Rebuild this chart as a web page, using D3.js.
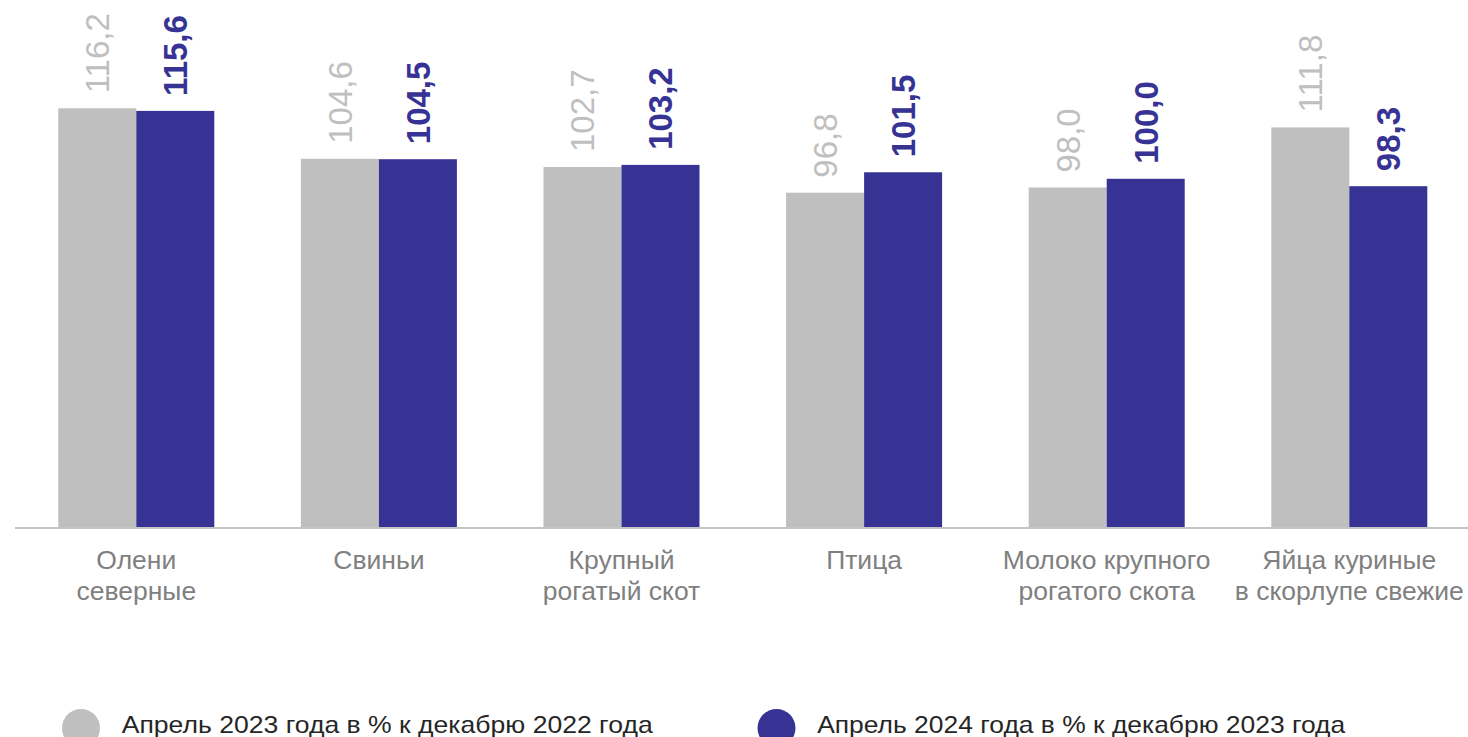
<!DOCTYPE html>
<html>
<head>
<meta charset="utf-8">
<script src="https://cdn.jsdelivr.net/npm/d3@7"></script>
<style>
  body { margin: 0; background: #fff; }
  svg { display: block; font-family: "Liberation Sans", Arial, sans-serif; }
</style>
</head>
<body>
<div id="chart"></div>
<script>
var categories = [
  ["Олени", "северные"],
  ["Свиньи"],
  ["Крупный", "рогатый скот"],
  ["Птица"],
  ["Молоко крупного", "рогатого скота"],
  ["Яйца куриные", "в скорлупе свежие"]
];
var series = ["Апрель 2023 года в % к декабрю 2022 года", "Апрель 2024 года в % к декабрю 2023 года"];
var values2023 = [116.2, 104.6, 102.7, 96.8, 98.0, 111.8];
var values2024 = [115.6, 104.5, 103.2, 101.5, 100.0, 98.3];
var colors = ["#bfbfbf", "#363394"];

var width = 1468, height = 737;

var svg = d3.select("#chart").append("svg")
    .attr("width", width)
    .attr("height", height);

// axis doesn't start at 0 in the original
var y = d3.scaleLinear().domain([20, 140]).range([527, 4.7]);

var x0 = d3.scaleBand()
    .domain(d3.range(categories.length))
    .range([15, 1470.6])
    .paddingInner(0.357)
    .paddingOuter(0.1785);

var x1 = d3.scaleBand()
    .domain([0, 1])
    .range([0, x0.bandwidth()]);

var data = categories.map(function (c, i) {
  return [values2023[i], values2024[i]];
});

var groups = svg.selectAll("g.grp")
    .data(data)
    .enter().append("g")
    .attr("class", "grp")
    .attr("transform", function (d, i) { return "translate(" + x0(i) + ",0)"; });

groups.selectAll("rect")
    .data(function (d) { return d; })
    .enter().append("rect")
    .attr("x", function (d, j) { return x1(j); })
    .attr("y", function (d) { return y(d); })
    .attr("width", x1.bandwidth())
    .attr("height", function (d) { return y(20) - y(d); })
    .style("fill", function (d, j) { return colors[j]; });

// value labels, rotated
groups.selectAll("text.val")
    .data(function (d) { return d; })
    .enter().append("text")
    .attr("class", "val")
    .attr("transform", function (d, j) {
      return "translate(" + (x1(j) + x1.bandwidth() / 2) + "," + (y(d) - 15) + ") rotate(-90)";
    })
    .attr("dy", "0.36em")
    .style("font-size", "33px")
    .style("font-weight", function (d, j) { return j == 1 ? "bold" : "normal"; })
    .style("fill", function (d, j) { return colors[j]; })
    .text(function (d) { return d.toFixed(1).replace(".", ","); });

// baseline
svg.append("line")
    .attr("x1", 15).attr("x2", width)
    .attr("y1", 528).attr("y2", 528)
    .style("stroke", "#c4c4c4")
    .style("stroke-width", 2);

// category labels
var cat = svg.selectAll("text.cat")
    .data(categories)
    .enter().append("text")
    .attr("class", "cat")
    .attr("text-anchor", "middle")
    .style("font-size", "26.5px")
    .style("fill", "#808080");

cat.selectAll("tspan")
    .data(function (d, i) { return d.map(function (t) { return {t: t, i: i}; }); })
    .enter().append("tspan")
    .attr("x", function (d) { return x0(d.i) + x0.bandwidth() / 2; })
    .attr("y", function (d, k) { return 569 + k * 31; })
    .text(function (d) { return d.t; });

// legend
var legX = [81, 776.5];
var legW = [531, 528];
var leg = svg.selectAll("g.leg")
    .data(series)
    .enter().append("g")
    .attr("class", "leg");

leg.append("circle")
    .attr("cx", function (d, i) { return legX[i]; })
    .attr("cy", 728)
    .attr("r", 19)
    .style("fill", function (d, i) { return colors[i]; });

leg.append("text")
    .attr("x", function (d, i) { return legX[i] + 40.7; })
    .attr("y", 733.3)
    .attr("textLength", function (d, i) { return legW[i]; })
    .attr("lengthAdjust", "spacingAndGlyphs")
    .style("font-size", "24px")
    .style("fill", "#262626")
    .text(function (d) { return d; });
</script>
</body>
</html>
